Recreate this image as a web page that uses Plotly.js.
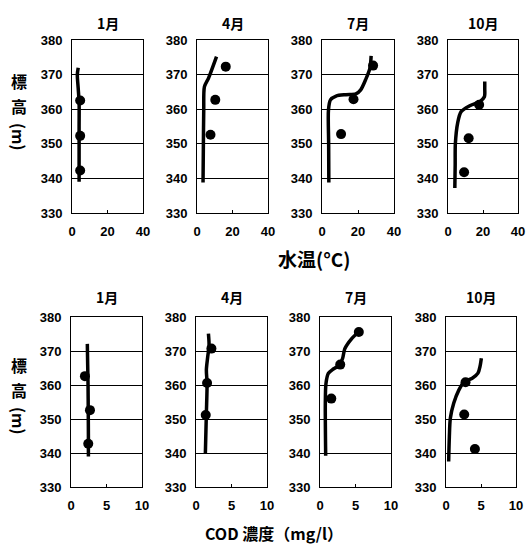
<!DOCTYPE html>
<html>
<head>
<meta charset="utf-8">
<script src="https://cdn.plot.ly/plotly-3.0.1.min.js"></script>
<style>html,body{margin:0;padding:0;background:#fff;}#chart{width:529px;height:544px;}</style>
</head>
<body>
<div id="chart"></div>
<script>
// ---- data ----
const months = ['1月', '4月', '7月', '10月'];
const elevTicks = [330, 340, 350, 360, 370, 380];
const tempTicks = [0, 20, 40];
const codTicks = [0, 5, 10];

// water temperature (°C) vs elevation (m)
const tempJanLineX = [4, 4, 4, 4, 3.5, 3, 3.5];
const tempJanLineY = [339, 345, 355, 362, 366, 370, 372];
const tempJanPtX = [4.6, 4.6, 4.6];
const tempJanPtY = [362.5, 352.3, 342.3];

const tempAprLineX = [3.4, 3.6, 3.8, 4.2, 6.5, 11];
const tempAprLineY = [338.8, 350, 359.8, 366.5, 369, 375.2];
const tempAprPtX = [16.2, 10.3, 7.6];
const tempAprPtY = [372.3, 362.7, 352.6];

const tempJulLineX = [3.8, 3.7, 3.6, 4.7, 7.8, 13.3, 18.8, 21.5, 24.2, 26.6, 27.3];
const tempJulLineY = [338.8, 350, 359.8, 362.7, 363.8, 364.2, 364.4, 365.6, 368.5, 371.8, 375.4];
const tempJulPtX = [28.4, 17.5, 10.6];
const tempJulPtY = [372.6, 362.9, 352.8];

const tempOctLineX = [3.9, 4.1, 4.2, 5.5, 7.5, 12.4, 18.2, 20.8, 21, 21];
const tempOctLineY = [337.2, 344, 350, 356, 359.3, 361, 362.2, 363.6, 366, 368];
const tempOctPtX = [17.8, 11.8, 9.2];
const tempOctPtY = [361.3, 351.6, 341.8];

// COD concentration (mg/l) vs elevation (m)
const codJanLineX = [2.45, 2.45, 2.43, 2.4, 2.35, 2.3];
const codJanLineY = [339, 345, 352, 360, 366, 372.1];
const codJanPtX = [1.96, 2.67, 2.43];
const codJanPtY = [362.6, 352.6, 342.7];

const codAprLineX = [1.32, 1.46, 1.56, 1.46, 1.65, 1.84, 1.75];
const codAprLineY = [340, 351.7, 360.5, 364.4, 368.3, 371.7, 375.1];
const codAprPtX = [2.17, 1.56, 1.37];
const codAprPtY = [370.7, 360.6, 351.2];

const codJulLineX = [0.8, 0.75, 0.84, 1.17, 1.87, 2.71, 3.18, 3.5, 4.44, 5.42];
const codJulLineY = [339.2, 354.6, 360.4, 363.4, 364.7, 365.8, 367.8, 370.7, 373.6, 375.6];
const codJulPtX = [5.47, 2.85, 1.59];
const codJulPtY = [375.6, 366, 356];

const codOctLineX = [0.38, 0.48, 0.62, 1.1, 1.83, 2.64, 3.75, 4.57, 4.86, 5.05];
const codOctLineY = [337.5, 344.8, 350.2, 354.6, 358.5, 361, 362, 363.5, 365.5, 367.9];
const codOctPtX = [2.79, 2.6, 4.13];
const codOctPtY = [360.8, 351.3, 341.2];

// ---- layout helpers ----
const W = 529, H = 544;
const topPanels = [[72, 143], [197, 268], [322, 394], [448, 518]];
const botPanels = [[71, 142], [196, 267], [320, 391], [446, 516]];
const topY = [40, 213], botY = [317, 487];
const fx = p => p / W, fy = p => 1 - p / H;

const series = [
  [tempJanLineX, tempJanLineY, tempJanPtX, tempJanPtY],
  [tempAprLineX, tempAprLineY, tempAprPtX, tempAprPtY],
  [tempJulLineX, tempJulLineY, tempJulPtX, tempJulPtY],
  [tempOctLineX, tempOctLineY, tempOctPtX, tempOctPtY],
  [codJanLineX, codJanLineY, codJanPtX, codJanPtY],
  [codAprLineX, codAprLineY, codAprPtX, codAprPtY],
  [codJulLineX, codJulLineY, codJulPtX, codJulPtY],
  [codOctLineX, codOctLineY, codOctPtX, codOctPtY]
];

const numFont = {family: 'Liberation Sans, Arial, sans-serif', size: 13, color: '#000', weight: 'bold'};
const cjk = 'Noto Sans CJK JP, sans-serif';

const data = [];
const layout = {
  width: W, height: H,
  margin: {l: 0, r: 0, t: 0, b: 0},
  paper_bgcolor: '#fff', plot_bgcolor: '#fff',
  showlegend: false,
  annotations: []
};

series.forEach((s, i) => {
  const n = i + 1;
  const xa = n === 1 ? 'x' : 'x' + n, ya = n === 1 ? 'y' : 'y' + n;
  const isTop = i < 4;
  const px = isTop ? topPanels[i] : botPanels[i - 4];
  const py = isTop ? topY : botY;
  data.push({x: s[0], y: s[1], xaxis: xa, yaxis: ya, mode: 'lines', type: 'scatter',
    line: {color: '#000', width: 3.5, shape: 'spline', smoothing: 0.8}, hoverinfo: 'skip'});
  data.push({x: s[2], y: s[3], xaxis: xa, yaxis: ya, mode: 'markers', type: 'scatter',
    marker: {color: '#000', size: 10}, hoverinfo: 'skip'});
  const xticks = isTop ? tempTicks : codTicks;
  layout['xaxis' + (n === 1 ? '' : n)] = {
    domain: [fx(px[0]), fx(px[1])], anchor: ya,
    range: [xticks[0], xticks[xticks.length - 1]],
    tickvals: xticks, ticktext: xticks.map(String),
    showgrid: false, zeroline: false,
    showline: true, mirror: true, linecolor: '#000', linewidth: 1,
    ticks: 'inside', ticklen: 3, tickcolor: '#000', tickwidth: 1,
    tickfont: numFont, ticklabelstandoff: 6
  };
  layout['yaxis' + (n === 1 ? '' : n)] = {
    domain: [fy(py[1]), fy(py[0])], anchor: xa,
    range: [330, 380],
    tickvals: elevTicks, ticktext: elevTicks.map(String),
    showgrid: true, gridcolor: '#000', gridwidth: 1, zeroline: false,
    showline: true, mirror: true, linecolor: '#000', linewidth: 1,
    ticks: '', tickfont: numFont, ticklabelstandoff: 6
  };
  layout.annotations.push({
    text: months[i % 4], xref: 'paper', yref: 'paper',
    x: fx((px[0] + px[1]) / 2), y: fy(isTop ? 23 : 297),
    xanchor: 'center', yanchor: 'middle', showarrow: false,
    font: {family: cjk, size: 14, color: '#000', weight: 'bold'}
  });
});

// axis titles
layout.annotations.push({
  text: '水温(°C)', xref: 'paper', yref: 'paper', x: fx(314), y: fy(258),
  xanchor: 'center', yanchor: 'middle', showarrow: false,
  font: {family: cjk, size: 19, color: '#000', weight: 'bold'}
});
layout.annotations.push({
  text: 'COD 濃度（mg/l）', xref: 'paper', yref: 'paper', x: fx(274), y: fy(533),
  xanchor: 'center', yanchor: 'middle', showarrow: false,
  font: {family: cjk, size: 16, color: '#000', weight: 'bold'}
});
[[81, 106, 137], [365, 390, 421]].forEach(ys => {
  layout.annotations.push({text: '標', xref: 'paper', yref: 'paper', x: fx(19), y: fy(ys[0]),
    xanchor: 'center', yanchor: 'middle', showarrow: false, borderpad: 0,
    font: {family: cjk, size: 16, color: '#000', weight: 'bold'}});
  layout.annotations.push({text: '高', xref: 'paper', yref: 'paper', x: fx(19), y: fy(ys[1]),
    xanchor: 'center', yanchor: 'middle', showarrow: false, borderpad: 0,
    font: {family: cjk, size: 16, color: '#000', weight: 'bold'}});
  layout.annotations.push({text: '(m)', xref: 'paper', yref: 'paper', x: fx(19), y: fy(ys[2]),
    xanchor: 'center', yanchor: 'middle', showarrow: false, textangle: 90, borderpad: 0,
    font: {family: cjk, size: 16, color: '#000', weight: 'bold'}});
});

Plotly.newPlot('chart', data, layout, {staticPlot: true, displayModeBar: false});
</script>
</body>
</html>
